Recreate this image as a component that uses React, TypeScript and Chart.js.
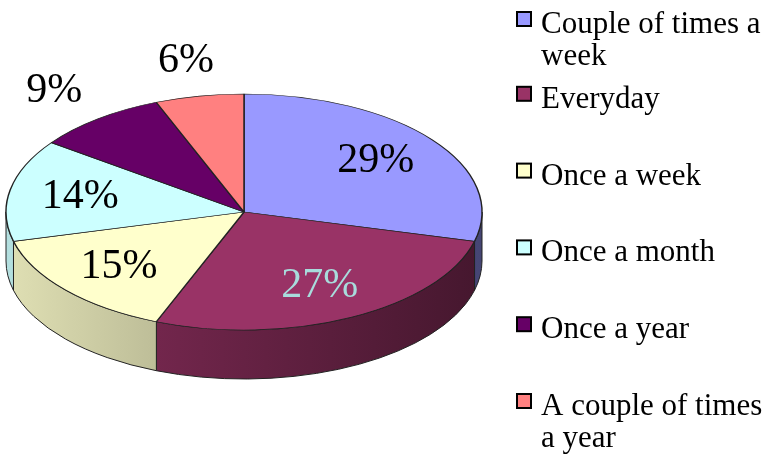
import React, { useEffect, useRef } from "react";
import { Chart, registerables } from "chart.js";

Chart.register(...registerables);

const categories = [
  "Couple of times a week",
  "Everyday",
  "Once a week",
  "Once a month",
  "Once a year",
  "A couple of times a year",
];
const shares = [29, 27, 15, 14, 9, 6];
const percentLabels = ["29%", "27%", "15%", "14%", "9%", "6%"];
const sliceColors = ["#9999FF", "#993366", "#FFFFCC", "#CCFFFF", "#660066", "#FF8080"];

// geometry of the tilted pie (layout)
const PIE_CX = 244;
const PIE_CY = 212;
const PIE_RX = 238;
const PIE_RY = 118;
const DEPTH = 49;
const SERIF = '"Liberation Serif", "Times New Roman", serif';

function shade(hex: string, f: number) {
  const n = parseInt(hex.slice(1), 16);
  const r = Math.round(((n >> 16) & 255) * f);
  const g = Math.round(((n >> 8) & 255) * f);
  const b = Math.round((n & 255) * f);
  return `rgb(${r},${g},${b})`;
}

function isDark(hex: string) {
  const n = parseInt(hex.slice(1), 16);
  const r = (n >> 16) & 255, g = (n >> 8) & 255, b = n & 255;
  return 0.299 * r + 0.587 * g + 0.114 * b < 128;
}

const pie3d = {
  id: "pie3d",
  beforeDatasetsDraw(chart: any) {
    const ctx = chart.ctx as CanvasRenderingContext2D;
    const meta = chart.getDatasetMeta(0);
    const colors = chart.data.datasets[0].backgroundColor as string[];
    ctx.save();
    meta.data.forEach((arc: any, i: number) => {
      const a0 = Math.max(arc.startAngle, 0);
      const a1 = Math.min(arc.endAngle, Math.PI);
      if (a1 <= a0) return;
      const grad = ctx.createLinearGradient(PIE_CX - PIE_RX, 0, PIE_CX + PIE_RX, 0);
      grad.addColorStop(0, shade(colors[i], 0.88));
      grad.addColorStop(1, shade(colors[i], 0.45));
      ctx.beginPath();
      ctx.ellipse(PIE_CX, PIE_CY, PIE_RX, PIE_RY, 0, a0, a1, false);
      ctx.lineTo(PIE_CX + PIE_RX * Math.cos(a1), PIE_CY + PIE_RY * Math.sin(a1) + DEPTH);
      ctx.ellipse(PIE_CX, PIE_CY + DEPTH, PIE_RX, PIE_RY, 0, a1, a0, true);
      ctx.closePath();
      ctx.fillStyle = grad;
      ctx.fill();
      ctx.lineWidth = 1;
      ctx.strokeStyle = "#222";
      ctx.stroke();
    });
    ctx.restore();
    const a = meta.data[0];
    const R = a.outerRadius;
    ctx.save();
    ctx.translate(PIE_CX, PIE_CY);
    ctx.scale(PIE_RX / R, PIE_RY / R);
    ctx.translate(-a.x, -a.y);
  },
  afterDatasetsDraw(chart: any) {
    const ctx = chart.ctx as CanvasRenderingContext2D;
    ctx.restore();
    const meta = chart.getDatasetMeta(0);
    const colors = chart.data.datasets[0].backgroundColor as string[];
    const vals = chart.data.datasets[0].data as number[];
    ctx.save();
    ctx.font = `42px ${SERIF}`;
    ctx.textAlign = "center";
    ctx.textBaseline = "middle";
    meta.data.forEach((arc: any, i: number) => {
      const mid = (arc.startAngle + arc.endAngle) / 2;
      const inside = vals[i] >= 10;
      const f = inside ? 0.7 : 1.3;
      const x = PIE_CX + PIE_RX * f * Math.cos(mid);
      const y = PIE_CY + PIE_RY * f * Math.sin(mid);
      ctx.fillStyle = inside && isDark(colors[i]) ? "#A8DCDC" : "#000";
      ctx.fillText(percentLabels[i], x, y);
    });
    ctx.restore();
  },
  afterDraw(chart: any) {
    const ctx = chart.ctx as CanvasRenderingContext2D;
    const labels = chart.data.labels as string[];
    const colors = chart.data.datasets[0].backgroundColor as string[];
    ctx.save();
    ctx.font = `31px ${SERIF}`;
    ctx.textAlign = "left";
    ctx.textBaseline = "alphabetic";
    const textX = 541;
    const maxW = 768 - textX - 1;
    labels.forEach((lab, i) => {
      const words = lab.split(" ");
      const lines: string[] = [];
      let cur = "";
      words.forEach((w) => {
        const t = cur ? cur + " " + w : w;
        if (ctx.measureText(t).width > maxW && cur) {
          lines.push(cur);
          cur = w;
        } else cur = t;
      });
      if (cur) lines.push(cur);
      const base = 31 + i * 76.8 + (lines.length > 1 && i === 0 ? 2 : 0);
      ctx.fillStyle = colors[i];
      ctx.fillRect(517, base - 21, 14, 14);
      ctx.lineWidth = 2;
      ctx.strokeStyle = "#000";
      ctx.strokeRect(517, base - 21, 14, 14);
      ctx.fillStyle = "#000";
      lines.forEach((ln, k) => ctx.fillText(ln, textX, base + k * 32));
    });
    ctx.restore();
  },
};

export default function App() {
  const ref = useRef<HTMLCanvasElement>(null);
  useEffect(() => {
    document.body.style.margin = "0";
    const chart = new Chart(ref.current!, {
      type: "pie",
      data: {
        labels: categories,
        datasets: [
          {
            data: shares,
            backgroundColor: sliceColors,
            borderColor: "#222",
            borderWidth: 1.4,
          },
        ],
      },
      options: {
        responsive: false,
        animation: false,
        layout: { padding: { left: 6, right: 286, top: 0, bottom: 0 } },
        plugins: { legend: { display: false }, tooltip: { enabled: false } },
      },
      plugins: [pie3d],
    });
    let alive = true;
    const fonts = (document as any).fonts;
    if (fonts && fonts.load) {
      Promise.all([
        fonts.load(`31px "Liberation Serif"`),
        fonts.load(`42px "Liberation Serif"`),
      ]).then(() => {
        if (alive) chart.update();
      });
    }
    return () => {
      alive = false;
      chart.destroy();
    };
  }, []);
  return (
    <div style={{ width: 768, height: 458, background: "#fff" }}>
      <span style={{ fontFamily: '"Liberation Serif"', position: "absolute", left: -9999, top: 0 }}>
        .
      </span>
      <canvas ref={ref} width={768} height={458} />
    </div>
  );
}
